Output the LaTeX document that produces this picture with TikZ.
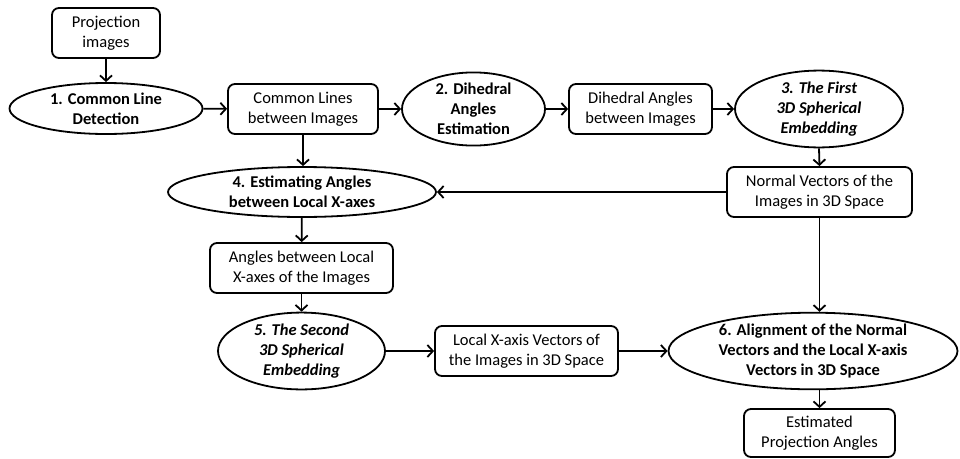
\documentclass[tikz,border=0pt]{standalone}
\usepackage{fontspec}
\setmainfont{Carlito}
\usetikzlibrary{shapes.geometric,arrows.meta}
\begin{document}
\begin{tikzpicture}[x=1pt,y=-1pt,
  every node/.style={font=\fontsize{16.5}{20}\selectfont, align=center, inner sep=0pt},
  box/.style={draw, line width=1.8pt, rounded corners=7pt, minimum height=50pt},
  proc/.style={draw, ellipse, line width=1.8pt, font=\fontsize{16.5}{20}\selectfont\bfseries},
  proci/.style={proc, font=\fontsize{16.5}{20}\selectfont\bfseries\itshape},
  arr/.style={line width=1.8pt, -{Straight Barb[length=5.5pt,width=12pt,line width=1.8pt]}}]
\useasboundingbox (0,0) rectangle (960,458);
\node[box, minimum width=108pt] (proj) at (106,33) {Projection\\images};
\node[proc, minimum width=193pt, minimum height=51pt] (e1) at (106,108.5) {1. Common Line\\Detection};
\node[box, minimum width=150pt] (cl) at (303,109) {Common Lines\\between Images};
\node[proc, minimum width=143pt, minimum height=68pt] (e2) at (473.5,109) {2. Dihedral\\Angles\\Estimation};
\node[box, minimum width=143pt] (da) at (640.5,109) {Dihedral Angles\\between Images};
\node[proci, minimum width=168pt, minimum height=68pt] (e3) at (819,109) {3. The First\\3D Spherical\\Embedding};
\node[box, minimum width=185pt] (nv) at (819.5,192) {Normal Vectors of the\\Images in 3D Space};
\node[proc, minimum width=268pt, minimum height=50pt] (e4) at (302,192) {4. Estimating Angles\\between Local X-axes};
\node[box, minimum width=183pt] (al) at (301.5,268) {Angles between Local\\X-axes of the Images};
\node[proci, minimum width=167pt, minimum height=67pt] (e5) at (301.5,351) {5. The Second\\3D Spherical\\Embedding};
\node[box, minimum width=183pt] (lx) at (526.5,351) {Local X-axis Vectors of\\the Images in 3D Space};
\node[proc, minimum width=289pt, minimum height=66pt] (e6) at (813,351) {6. Alignment of the Normal\\Vectors and the Local X-axis\\Vectors in 3D Space};
\node[box, minimum width=151pt, minimum height=48pt] (est) at (819.5,433) {Estimated\\Projection Angles};
\draw[arr] (proj) -- (e1);
\draw[arr] (e1) -- (cl);
\draw[arr] (cl) -- (e2);
\draw[arr] (e2) -- (da);
\draw[arr] (da) -- (e3);
\draw[arr] (e3.south) -- (nv.north);
\draw[arr] (cl.south) -- (e4.north -| cl.south);
\draw[arr] (nv.west) -- (e4.east);
\draw[arr] (e4) -- (al);
\draw[arr] (al) -- (e5);
\draw[arr] (e5) -- (lx);
\draw[arr] (lx) -- (e6);
\draw[arr] (nv.south) -- (nv.south |- e6.north);
\draw[arr] (e6.south -| est.north) -- (est.north);
\end{tikzpicture}
\end{document}
